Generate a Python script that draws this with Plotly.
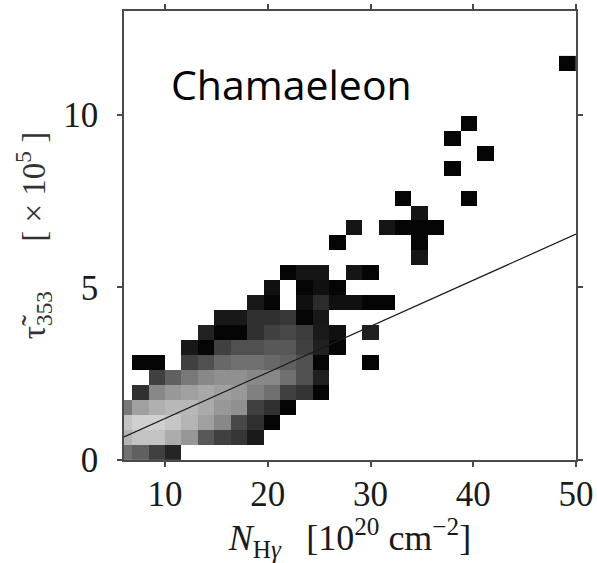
import plotly.graph_objects as go

# ---- data -------------------------------------------------------------
# 2D histogram bins: x bin width 1.6 (edges 5.2 ... 50.0), y bin width 13/30
x_bin_start = 5.2
x_bin_width = 1.6
n_cols = 28
y_bin_start = 0.0
y_bin_width = 13.0 / 30.0
n_rows = 27

# grey level of each occupied cell (0 = black = few pixels, 255 = white = many)
# row index -> {column index: grey level}
gray_cells = {
    0: {0: 112, 1: 96, 2: 64, 3: 37},
    1: {0: 180, 1: 195, 2: 195, 3: 172, 4: 150, 5: 88, 6: 64, 7: 54, 8: 26},
    2: {0: 195, 1: 208, 2: 208, 3: 198, 4: 180, 5: 160, 6: 136, 7: 72, 8: 48, 9: 5},
    3: {0: 120, 1: 160, 2: 176, 3: 184, 4: 184, 5: 170, 6: 152, 7: 144, 8: 64, 9: 48, 10: 5},
    4: {1: 48, 2: 136, 3: 152, 4: 160, 5: 168, 6: 160, 7: 152, 8: 128, 9: 112, 10: 64, 11: 52, 12: 5},
    5: {2: 64, 3: 96, 4: 120, 5: 136, 6: 144, 7: 144, 8: 136, 9: 136, 10: 112, 11: 80, 12: 32},
    6: {1: 5, 2: 5, 4: 64, 5: 80, 6: 104, 7: 112, 8: 112, 9: 104, 10: 96, 11: 80, 12: 5, 15: 5},
    7: {4: 24, 5: 5, 6: 64, 7: 80, 8: 80, 9: 88, 10: 88, 11: 64, 12: 32, 13: 5},
    8: {5: 34, 6: 5, 7: 5, 8: 48, 9: 64, 10: 72, 11: 60, 12: 26, 13: 16, 15: 32},
    9: {6: 24, 7: 24, 8: 48, 9: 48, 10: 56, 11: 5, 12: 24},
    10: {8: 24, 9: 5, 11: 16, 12: 44, 13: 16, 14: 16, 15: 5, 16: 5},
    11: {9: 16, 11: 5, 12: 16, 13: 5},
    12: {10: 5, 11: 21, 12: 21, 14: 21, 15: 5},
    13: {18: 21},
    14: {13: 5, 18: 5},
    15: {14: 21, 16: 21, 17: 5, 18: 5, 19: 5},
    16: {18: 21},
    17: {17: 5, 21: 5},
    19: {20: 5},
    20: {22: 5},
    21: {20: 5},
    22: {21: 5},
    26: {27: 5},
}

# linear fit line
fit_slope = 0.1334
fit_intercept = -0.13
fit_x = [6.0, 50.0]

x_ticks = [10, 20, 30, 40, 50]
y_ticks = [0, 5, 10]
x_range = [6.0, 50.0]
y_range = [0.0, 13.0]

label_text = "Chamaeleon"
x_title = "<i>N</i><sub>H<i>γ</i></sub>\u2002\u2009[10<sup>20</sup> cm<sup>−2</sup>]"
y_title = "τ\u0303<sub>353</sub>\u2003\u2002[ × 10<sup>5</sup> ]"

# ---- build ------------------------------------------------------------
x_edges = [round(x_bin_start + x_bin_width * i, 4) for i in range(n_cols + 1)]
y_edges = [round(y_bin_start + y_bin_width * j, 4) for j in range(n_rows + 1)]
z = [[None] * n_cols for _ in range(n_rows)]
for r, cells in gray_cells.items():
    for c, v in cells.items():
        z[r][c] = v

fit_y = [fit_slope * x + fit_intercept for x in fit_x]

serif = "Liberation Serif, Times New Roman, serif"
axis_col = "#4a4a4a"

fig = go.Figure()
fig.add_trace(go.Heatmap(
    x=x_edges, y=y_edges, z=z,
    zmin=0, zmax=255,
    colorscale=[[0, "#000000"], [1, "#ffffff"]],
    showscale=False, hoverinfo="skip",
))
fig.add_trace(go.Scatter(
    x=fit_x, y=fit_y, mode="lines",
    line=dict(color="#1a1a1a", width=1.2),
    hoverinfo="skip", showlegend=False,
))

fig.add_annotation(
    text=label_text, x=10.35, y=10.88, xref="x", yref="y",
    xanchor="left", yanchor="middle", showarrow=False,
    font=dict(family="Open Sans, sans-serif", size=41, color="#000000"),
)

fig.update_layout(
    width=597, height=563,
    margin=dict(l=124, r=21, t=11, b=103),
    paper_bgcolor="white", plot_bgcolor="white",
    showlegend=False,
)
fig.update_xaxes(
    range=x_range, tickvals=x_ticks, ticks="outside", ticklen=5, tickwidth=1.5,
    tickcolor=axis_col, showline=True, linecolor=axis_col, linewidth=1.5,
    mirror="ticks", showgrid=False, zeroline=False, automargin=False,
    ticklabelstandoff=-3,
    tickfont=dict(family=serif, size=35, color="#1a1a1a"),
    title=dict(text=x_title, font=dict(family=serif, size=36, color="#1a1a1a"), standoff=5),
)
fig.update_yaxes(
    range=y_range, tickvals=y_ticks, ticks="outside", ticklen=5, tickwidth=1.5,
    tickcolor=axis_col, showline=True, linecolor=axis_col, linewidth=1.5,
    mirror="ticks", showgrid=False, zeroline=False, automargin=False,
    ticklabelstandoff=12,
    tickfont=dict(family=serif, size=35, color="#1a1a1a"),
    title=dict(text=y_title, font=dict(family=serif, size=33, color="#333333"), standoff=8),
)

fig.write_html("out.html")
